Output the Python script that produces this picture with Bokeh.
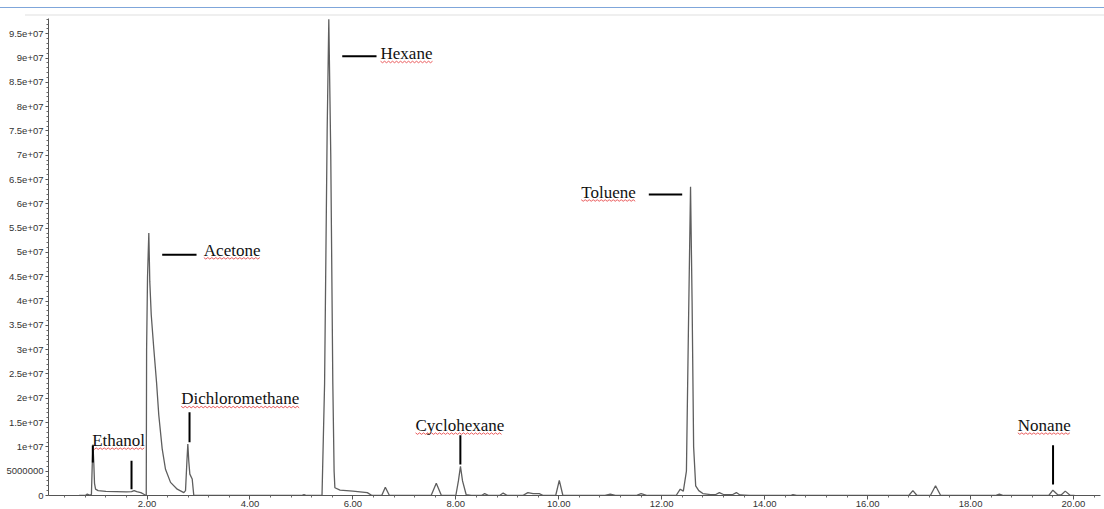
import numpy as np
from bokeh.plotting import figure
from bokeh.models import Range1d, FixedTicker, ColumnDataSource
from bokeh.core.properties import value
from bokeh.embed import file_html
from bokeh.resources import INLINE

# ---------------- data ----------------
retention_time = [
    0.68, 0.80, 0.84, 0.88, 0.92, 0.935, 0.95, 0.965, 0.98, 1.00, 1.05, 1.20, 1.40, 1.60,
    1.70, 1.75, 1.80, 1.88, 1.93, 1.97,
    1.985, 1.992, 2.010, 2.035, 2.054, 2.082, 2.132, 2.185, 2.229, 2.295, 2.359, 2.457,
    2.587, 2.715, 2.748, 2.775, 2.793, 2.812, 2.832, 2.878, 2.895, 2.909,
    5.00, 5.05, 5.10,
    5.40, 5.45, 5.50, 5.532, 5.57, 5.61, 5.635, 5.65, 5.75, 6.00, 6.28, 6.37,
    6.56, 6.63, 6.71,
    7.52, 7.62, 7.72,
    8.00, 8.05, 8.09, 8.13, 8.20, 8.30,
    8.50, 8.56, 8.64, 8.85, 8.92, 9.00, 9.30, 9.40, 9.50, 9.62, 9.70,
    9.94, 10.01, 10.08,
    10.90, 11.00, 11.10, 11.50, 11.60, 11.72,
    12.28, 12.36, 12.42, 12.48, 12.52, 12.56, 12.59, 12.62, 12.66, 12.72, 12.80, 12.95,
    13.05, 13.12, 13.20, 13.38, 13.45, 13.52, 13.70,
    14.50, 14.55, 14.62,
    16.80, 16.88, 16.96, 17.22, 17.32, 17.42,
    18.48, 18.56, 18.64,
    19.52, 19.60, 19.70, 19.76, 19.84, 19.94, 20.02,
]
abundance = [
    0, 0, 0.3e6, 0.1e6, 0.2e6, 6.0e6, 10.5e6, 7.0e6, 2.5e6, 1.3e6, 1.0e6, 0.85e6, 0.8e6, 0.75e6,
    0.8e6, 1.0e6, 0.8e6, 0.6e6, 0.3e6, 0.05e6,
    0, 30e6, 45e6, 54e6, 44e6, 37.2e6, 30.2e6, 23.3e6, 16.5e6, 9.6e6, 5.4e6, 2.7e6,
    1.3e6, 0.6e6, 1.0e6, 7.0e6, 10.6e6, 7.0e6, 4.4e6, 3.4e6, 1.5e6, 0,
    0, 0.2e6, 0,
    0, 23e6, 75e6, 98e6, 70e6, 23e6, 5.0e6, 1.6e6, 1.1e6, 0.9e6, 0.6e6, 0,
    0, 1.7e6, 0,
    0, 2.5e6, 0,
    0, 3.0e6, 6.0e6, 3.0e6, 0.2e6, 0,
    0, 0.4e6, 0, 0, 0.5e6, 0, 0, 0.6e6, 0.4e6, 0.4e6, 0,
    0, 3.1e6, 0,
    0, 0.3e6, 0, 0, 0.4e6, 0,
    0, 1.3e6, 0.9e6, 5.0e6, 35e6, 63.5e6, 40e6, 10e6, 2.0e6, 1.0e6, 0.4e6, 0.2e6,
    0.2e6, 0.6e6, 0.2e6, 0.2e6, 0.6e6, 0.1e6, 0,
    0, 0.2e6, 0,
    0, 1.0e6, 0, 0, 2.0e6, 0,
    0, 0.3e6, 0,
    0, 1.1e6, 0.1e6, 0.1e6, 0.9e6, 0, 0,
]

x_major_ticks = [2, 4, 6, 8, 10, 12, 14, 16, 18, 20]
x_tick_labels = ["2.00", "4.00", "6.00", "8.00", "10.00", "12.00", "14.00", "16.00", "18.00", "20.00"]
y_major_ticks = [0, 5000000, 10000000, 15000000, 20000000, 25000000, 30000000, 35000000,
                 40000000, 45000000, 50000000, 55000000, 60000000, 65000000, 70000000,
                 75000000, 80000000, 85000000, 90000000, 95000000]
y_tick_labels = ["0", "5000000", "1e+07", "1.5e+07", "2e+07", "2.5e+07", "3e+07", "3.5e+07",
                 "4e+07", "4.5e+07", "5e+07", "5.5e+07", "6e+07", "6.5e+07", "7e+07",
                 "7.5e+07", "8e+07", "8.5e+07", "9e+07", "9.5e+07"]

compound_names = ["Ethanol", "Acetone", "Dichloromethane", "Hexane", "Cyclohexane", "Toluene", "Nonane"]

# ---------------- annotation layout ----------------
label_x = [0.935, 3.104, 2.664, 6.537, 7.217, 10.436, 18.919]
label_y = [11.34e6, 50.5e6, 19.9e6, 90.9e6, 14.44e6, 62.4e6, 14.44e6]
label_w_px = [53, 57, 118, 53, 87, 55, 53]

marker_x0 = [1.699, 0.947, 2.295, 2.826, 5.793, 8.088, 11.749, 19.603]
marker_x1 = [1.699, 0.947, 2.962, 2.826, 6.459, 8.088, 12.398, 19.603]
marker_y0 = [7.17e6, 10.3e6, 49.52e6, 17.15e6, 90.35e6, 12.4e6, 61.92e6, 10.33e6]
marker_y1 = [1.30e6, 6.8e6, 49.52e6, 10.95e6, 90.35e6, 6.4e6, 61.92e6, 2.27e6]

X_START, X_END = 0.086, 20.525
Y_START, Y_END = 0, 98.14e6
FRAME_W, FRAME_H = 1052, 475

p = figure(width=1104, height=501, output_backend="svg", toolbar_location=None,
           x_range=Range1d(X_START, X_END), y_range=Range1d(Y_START, Y_END),
           min_border_left=48, min_border_right=4, min_border_top=10, min_border_bottom=0)
p.styles = {
    "margin-top": "7px",
    "border-top": "1px solid #7fa6da",
    "background-image": "linear-gradient(#efefef, #efefef)",
    "background-size": "calc(100% - 25px) 2px",
    "background-position": "25px 6px",
    "background-repeat": "no-repeat",
}
p.outline_line_color = None
p.xgrid.visible = False
p.ygrid.visible = False
p.background_fill_color = "white"
p.border_fill_color = None

p.line(retention_time, abundance, line_color="#5e5e5e", line_width=1.3)

# red spell-check style squiggles under labels
px_x = (X_END - X_START) / FRAME_W
px_y = (Y_END - Y_START) / FRAME_H
sq_xs, sq_ys = [], []
for lx, ly, w in zip(label_x, label_y, label_w_px):
    n = int(w // 2) + 1
    xs = [lx + i * 2 * px_x for i in range(n)]
    ys = [ly - (8.0 + (1.0 if i % 2 else -0.5)) * px_y for i in range(n)]
    sq_xs.append(xs)
    sq_ys.append(ys)
p.multi_line(sq_xs, sq_ys, line_color="#e8484a", line_width=0.9)

p.segment(x0=marker_x0, y0=marker_y0, x1=marker_x1, y1=marker_y1,
          line_color="#000000", line_width=2)

src = ColumnDataSource(dict(x=label_x, y=label_y, t=compound_names))
p.text(x="x", y="y", text="t", source=src, text_font=value("Liberation Serif"),
       text_font_size="17px", text_baseline="middle", text_align="left",
       text_color="#111111")

# axes
x_minor = [round(0.4 * i, 2) for i in range(0, 52) if round(0.4 * i, 2) % 2 != 0]
p.xaxis.ticker = FixedTicker(ticks=x_major_ticks, minor_ticks=x_minor)
p.xaxis.major_label_overrides = dict(zip(x_major_ticks, x_tick_labels))
y_minor = [i * 1000000 for i in range(0, 99) if i % 5 != 0]
p.yaxis.ticker = FixedTicker(ticks=y_major_ticks, minor_ticks=y_minor)
p.yaxis.major_label_overrides = dict(zip(y_major_ticks, y_tick_labels))

for ax in (p.xaxis[0], p.yaxis[0]):
    ax.axis_line_color = "#555555"
    ax.major_tick_line_color = "#555555"
    ax.minor_tick_line_color = "#666666"
    ax.major_tick_in = 0
    ax.minor_tick_in = 0
    ax.major_label_text_font = "Liberation Sans"
    ax.major_label_text_font_size = "9.5px"
    ax.major_label_text_color = "#333333"
p.xaxis.major_tick_out = 4
p.xaxis.minor_tick_out = 2
p.xaxis.major_label_standoff = 1
p.yaxis.major_tick_out = 3
p.yaxis.minor_tick_out = 2
p.yaxis.major_label_standoff = 2

open("out.html", "w").write(file_html(p, INLINE))
